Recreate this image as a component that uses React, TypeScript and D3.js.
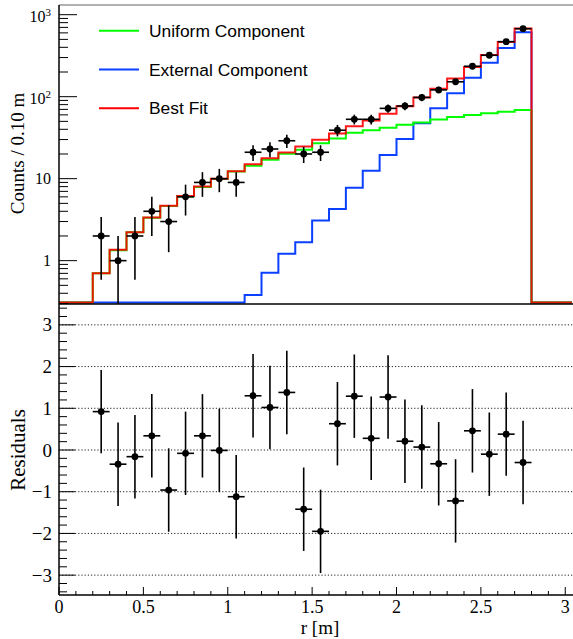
import React from "react";
import * as d3 from "d3";

// ---- data ----
const binCenters = [0.25, 0.35, 0.45, 0.55, 0.65, 0.75, 0.85, 0.95, 1.05, 1.15, 1.25, 1.35, 1.45, 1.55, 1.65, 1.75, 1.85, 1.95, 2.05, 2.15, 2.25, 2.35, 2.45, 2.55, 2.65, 2.75];
const binHalfWidth = 0.05;
const counts = [2, 1, 2, 4, 3, 6, 9, 10, 9, 21, 23, 29, 20, 21, 39, 53, 53, 72, 77, 98, 121, 152, 235, 320, 469, 675];
const uniformComponent = [0.70, 1.34, 2.22, 3.33, 4.64, 6.12, 7.9, 9.9, 12.2, 14.4, 17.0, 20.2, 22.6, 27.0, 31.0, 36.4, 39.0, 41.9, 45.5, 48.5, 52.5, 56.5, 59.9, 62.9, 65.5, 68.8];
const externalComponent = [0, 0, 0, 0, 0, 0, 0, 0, 0, 0.38, 0.71, 1.21, 1.68, 3.08, 4.27, 7.77, 12.5, 19.4, 30.5, 47.3, 72.2, 110, 170, 260, 393, 610];
const bestFit = [0.70, 1.36, 2.22, 3.35, 4.66, 6.15, 8.0, 10.0, 12.3, 15.0, 17.7, 20.9, 24.6, 29.8, 35.5, 43.5, 51.2, 62.0, 76.5, 97.5, 125, 167, 230, 322, 463, 677];
const residuals = [0.92, -0.34, -0.16, 0.34, -0.96, -0.08, 0.34, -0.01, -1.12, 1.30, 1.02, 1.38, -1.42, -1.95, 0.63, 1.29, 0.28, 1.27, 0.21, 0.07, -0.33, -1.22, 0.46, -0.10, 0.38, -0.30];

const xTickLabels = ["0", "0.5", "1", "1.5", "2", "2.5", "3"];
const xTickValues = [0, 0.5, 1, 1.5, 2, 2.5, 3];
const resTickValues = [-3, -2, -1, 0, 1, 2, 3];
const resTickLabels = ["\u22123", "\u22122", "\u22121", "0", "1", "2", "3"];
const logMajor = [1, 10, 100, 1000];

const legendItems = [
  { label: "Uniform Component", color: "#00ff00" },
  { label: "External Component", color: "#0a40ff" },
  { label: "Best Fit", color: "#ff0000" },
];

const W = 573;
const H = 639;
const left = 59;
const right = 572;
const topY = 5;
const midY = 304;
const botY = 596;

const serif = "'Liberation Serif', 'Times New Roman', serif";
const sans = "'Liberation Sans', Arial, Helvetica, sans-serif";

export default function App() {
  const x = d3.scaleLinear().domain([0, 3.04]).range([left, right]);
  const yTop = d3.scaleLog().domain([0.296, 1313]).range([midY, topY]);
  const yRes = d3.scaleLinear().domain([-3.5, 3.5]).range([botY, midY]);
  const yMin = 0.296;

  const stepPath = (vals: number[]) => {
    const yb = midY - 1.5;
    const yv = (v: number) => (v > yMin ? yTop(v) : yb);
    let p = `M${x(0)},${yb}H${x(binCenters[0] - binHalfWidth)}`;
    vals.forEach((v, i) => {
      p += `V${yv(v)}H${x(binCenters[i] + binHalfWidth)}`;
    });
    p += `V${yb}H${x(3.04)}`;
    return p;
  };

  const minorLog: number[] = [];
  [0.1, 1, 10, 100, 1000].forEach((d) => {
    for (let k = 2; k <= 9; k++) {
      const v = k * d;
      if (v >= 0.3 && v <= 1313) minorLog.push(v);
    }
  });

  const resMinor: number[] = [];
  for (let v = -3.4; v <= 3.41; v += 0.2) {
    const r = Math.round(v * 10) / 10;
    if (Math.abs(r - Math.round(r)) > 0.01) resMinor.push(r);
  }
  const xMinor: number[] = [];
  for (let i = 0; i <= 30; i++) {
    const v = i / 10;
    if (i % 5 !== 0) xMinor.push(v);
  }

  return (
    <svg
      width={W}
      height={H}
      style={{ position: "absolute", left: 0, top: 0, background: "#fff" }}
    >
      <defs>
        <clipPath id="topClip">
          <rect x={left} y={topY} width={right - left + 2} height={midY - topY} />
        </clipPath>
        <clipPath id="botClip">
          <rect x={left} y={midY} width={right - left + 2} height={botY - midY} />
        </clipPath>
      </defs>
      <rect x={0} y={0} width={W} height={H} fill="#fff" />

      {/* ---------- top panel ---------- */}
      <g clipPath="url(#topClip)">
        <path d={stepPath(externalComponent)} fill="none" stroke="#0a40ff" strokeWidth={2} />
        <path d={stepPath(uniformComponent)} fill="none" stroke="#00ff00" strokeWidth={2} />
        <path d={stepPath(bestFit)} fill="none" stroke="#ff0000" strokeWidth={2} strokeOpacity={0.9} />
        {counts.map((c, i) => {
          const e = Math.sqrt(c);
          const cx = x(binCenters[i]);
          const cy = yTop(c);
          const lo = c - e > yMin ? yTop(c - e) : midY + 2;
          return (
            <g key={i}>
              <line x1={cx} x2={cx} y1={yTop(c + e)} y2={lo} stroke="#000" strokeWidth={1.6} />
              <line x1={x(binCenters[i] - binHalfWidth)} x2={x(binCenters[i] + binHalfWidth)} y1={cy} y2={cy} stroke="#000" strokeWidth={1.6} />
              <circle cx={cx} cy={cy} r={3.4} fill="#000" />
            </g>
          );
        })}
      </g>

      {/* top frame */}
      <line x1={left} x2={W} y1={topY} y2={topY} stroke="#666" strokeWidth={1} />
      <line x1={left} x2={left} y1={topY} y2={midY} stroke="#000" strokeWidth={1.5} />
      {logMajor.map((v) => (
        <line key={"M" + v} x1={left} x2={left + 18} y1={yTop(v)} y2={yTop(v)} stroke="#000" strokeWidth={1} />
      ))}
      {minorLog.map((v) => (
        <line key={"m" + v} x1={left} x2={left + 9} y1={yTop(v)} y2={yTop(v)} stroke="#000" strokeWidth={1} />
      ))}
      {/* top y labels */}
      <text x={51} y={yTop(1) + 5.5} textAnchor="end" fontFamily={serif} fontSize={16}>1</text>
      <text x={51} y={yTop(10) + 5.5} textAnchor="end" fontFamily={serif} fontSize={16}>10</text>
      <text x={51} y={yTop(100) + 7.5} textAnchor="end" fontFamily={serif} fontSize={16}>
        10<tspan fontSize={11} dy={-6}>2</tspan>
      </text>
      <text x={51} y={yTop(1000) + 7.5} textAnchor="end" fontFamily={serif} fontSize={16}>
        10<tspan fontSize={11} dy={-6}>3</tspan>
      </text>
      <text
        transform={`translate(24, ${(topY + midY) / 2 - 1}) rotate(-90)`}
        textAnchor="middle"
        fontFamily={serif}
        fontSize={19}
      >
        Counts / 0.10 m
      </text>

      {/* legend */}
      {legendItems.map((it, i) => {
        const ly = 30.7 + i * 38.8;
        return (
          <g key={it.label}>
            <line x1={99} x2={139} y1={ly} y2={ly} stroke={it.color} strokeWidth={2} />
            <text x={149} y={ly + 6} fontFamily={sans} fontSize={17.4} fill="#000">
              {it.label}
            </text>
          </g>
        );
      })}

      {/* ---------- bottom panel ---------- */}
      {resTickValues.map((v) => (
        <line key={"g" + v} x1={left} x2={W} y1={yRes(v)} y2={yRes(v)} stroke="#222" strokeWidth={1} strokeDasharray="1.2,2" />
      ))}
      <g clipPath="url(#botClip)">
        {residuals.map((r, i) => {
          const cx = x(binCenters[i]);
          const cy = yRes(r);
          return (
            <g key={i}>
              <line x1={cx} x2={cx} y1={yRes(r + 1)} y2={yRes(r - 1)} stroke="#000" strokeWidth={1.6} />
              <line x1={x(binCenters[i] - binHalfWidth)} x2={x(binCenters[i] + binHalfWidth)} y1={cy} y2={cy} stroke="#000" strokeWidth={1.6} />
              <circle cx={cx} cy={cy} r={3.4} fill="#000" />
            </g>
          );
        })}
      </g>
      <line x1={left} x2={W} y1={midY} y2={midY} stroke="#000" strokeWidth={1.5} />
      <line x1={left} x2={W} y1={botY - 1} y2={botY - 1} stroke="#000" strokeWidth={1.5} />
      <line x1={left} x2={left} y1={midY} y2={botY - 1} stroke="#000" strokeWidth={1.5} />
      {resTickValues.map((v, i) => (
        <g key={"rt" + v}>
          <line x1={left} x2={left + 16} y1={yRes(v)} y2={yRes(v)} stroke="#000" strokeWidth={1} />
          <text x={52} y={yRes(v) + 6.5} textAnchor="end" fontFamily={serif} fontSize={19}>
            {resTickLabels[i]}
          </text>
        </g>
      ))}
      {resMinor.map((v) => (
        <line key={"rm" + v} x1={left} x2={left + 8} y1={yRes(v)} y2={yRes(v)} stroke="#000" strokeWidth={1} />
      ))}
      <text
        transform={`translate(25, ${yRes(0)}) rotate(-90)`}
        textAnchor="middle"
        fontFamily={serif}
        fontSize={21}
      >
        Residuals
      </text>

      {/* x axis */}
      {xTickValues.map((v, i) => (
        <g key={"xt" + v}>
          <line x1={x(v)} x2={x(v)} y1={botY - 1} y2={botY - 9} stroke="#000" strokeWidth={1} />
          <text x={x(v)} y={612.5} textAnchor="middle" fontFamily={serif} fontSize={18}>
            {xTickLabels[i]}
          </text>
        </g>
      ))}
      {xMinor.map((v) => (
        <line key={"xm" + v} x1={x(v)} x2={x(v)} y1={botY - 1} y2={botY - 5} stroke="#000" strokeWidth={1} />
      ))}
      <text x={320} y={633.5} textAnchor="middle" fontFamily={serif} fontSize={19}>
        r [m]
      </text>
    </svg>
  );
}
